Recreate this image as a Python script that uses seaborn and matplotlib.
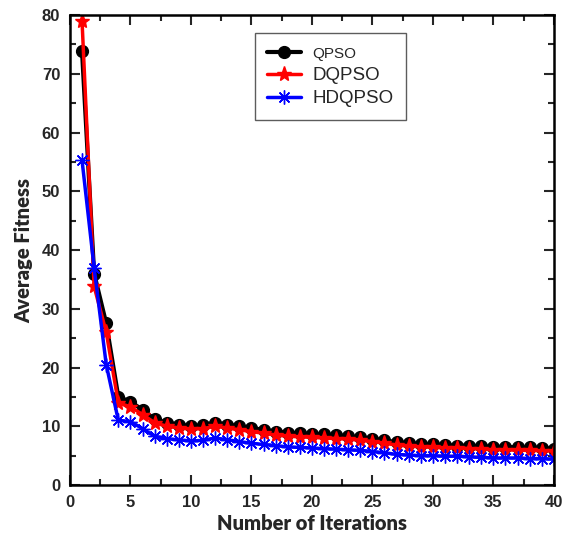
import numpy as np
import pandas as pd
import matplotlib
matplotlib.use('Agg')
import matplotlib.pyplot as plt
import seaborn as sns
from matplotlib.ticker import MultipleLocator

iterations = list(range(1, 41))

qpso = [73.8, 36.0, 27.5, 15.0, 14.2, 12.8, 11.2, 10.6, 10.3, 10.0,
        10.2, 10.6, 10.3, 10.0, 9.7, 9.4, 9.1, 8.9, 8.8, 8.7,
        8.6, 8.5, 8.3, 8.1, 7.9, 7.6, 7.3, 7.1, 7.0, 6.9,
        6.8, 6.7, 6.7, 6.6, 6.5, 6.5, 6.4, 6.4, 6.3, 6.2]
dqpso = [79.0, 33.8, 26.0, 14.0, 13.3, 12.0, 10.6, 10.0, 9.7, 9.5,
         9.6, 10.0, 9.7, 9.4, 9.1, 8.8, 8.5, 8.3, 8.2, 8.1,
         8.0, 7.9, 7.8, 7.6, 7.4, 7.1, 6.8, 6.6, 6.5, 6.4,
         6.3, 6.3, 6.2, 6.1, 6.0, 6.0, 5.9, 5.9, 5.8, 5.8]
hdqpso = [55.3, 37.0, 20.5, 11.0, 10.8, 9.6, 8.3, 7.9, 7.7, 7.5,
          7.6, 8.0, 7.7, 7.4, 7.1, 6.9, 6.7, 6.5, 6.4, 6.3,
          6.2, 6.1, 6.0, 5.9, 5.7, 5.5, 5.2, 5.1, 5.0, 5.0,
          4.9, 4.9, 4.8, 4.7, 4.6, 4.6, 4.6, 4.5, 4.5, 4.4]

series_names = ['QPSO', 'DQPSO', 'HDQPSO']
series_values = [qpso, dqpso, hdqpso]

sns.set_style('ticks')
plt.rcParams['font.family'] = ['Lato', 'DejaVu Sans']
plt.rcParams['font.weight'] = 'bold'

fig = plt.figure(figsize=(5.64, 5.38), dpi=100)
ax = fig.add_axes([0.124, 0.0985, 0.858, 0.8735])

styles = {
    'QPSO': dict(color='black', marker='o', markersize=8.5, linewidth=3.0),
    'DQPSO': dict(color='red', marker='*', markersize=11, linewidth=2.5),
    'HDQPSO': dict(color='blue', marker=(8, 2, 0), markersize=10, linewidth=2.5,
                   markeredgewidth=1.0),
}

for name, vals in zip(series_names, series_values):
    df = pd.DataFrame({'Iteration': iterations, 'Fitness': vals})
    st = styles[name]
    sns.lineplot(data=df, x='Iteration', y='Fitness', ax=ax, label=name,
                 color=st['color'], marker=st['marker'], markersize=st['markersize'],
                 linewidth=st['linewidth'], markeredgecolor=st['color'],
                 markeredgewidth=st.get('markeredgewidth', 1.0))

ax.set_xlim(0, 40)
ax.set_ylim(0, 80)
ax.xaxis.set_major_locator(MultipleLocator(5))
ax.xaxis.set_minor_locator(MultipleLocator(2.5))
ax.yaxis.set_major_locator(MultipleLocator(10))
ax.yaxis.set_minor_locator(MultipleLocator(5))
ax.tick_params(which='both', direction='in', top=True, right=True, width=1.5)
ax.tick_params(which='major', length=7, labelsize=12, pad=7,
               labelfontfamily='Liberation Sans')
ax.tick_params(which='minor', length=4)
for sp in ax.spines.values():
    sp.set_linewidth(1.8)
    sp.set_color('black')

ax.set_xlabel('Number of Iterations', fontsize=14.5, fontweight='heavy', labelpad=3)
ax.set_ylabel('Average Fitness', fontsize=14.5, fontweight='heavy', labelpad=6)

leg = ax.legend(loc='upper left', bbox_to_anchor=(0.383, 0.962), frameon=True,
                fancybox=False, edgecolor='#333333',
                prop={'family': ['Liberation Sans', 'DejaVu Sans'], 'size': 13.5,
                      'weight': 'normal'},
                handlelength=1.8, handletextpad=0.6, borderpad=0.65,
                labelspacing=0.32, borderaxespad=0)
leg.get_frame().set_linewidth(1.0)
leg.get_texts()[0].set_fontsize(11)

fig.savefig('out.png', dpi=100)
